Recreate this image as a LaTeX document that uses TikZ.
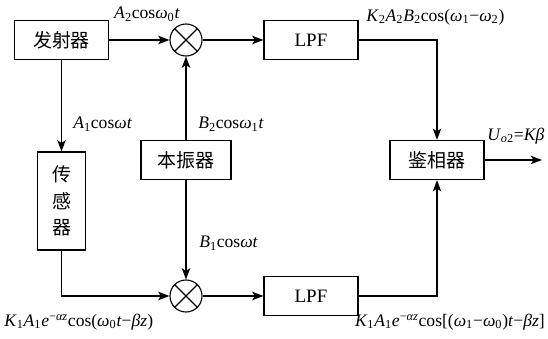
\documentclass[tikz,border=0pt]{standalone}
\usepackage{fontspec}
\setmainfont{Liberation Serif}
\newfontfamily\cjk{Noto Sans CJK SC}
\usetikzlibrary{arrows.meta}
\newcommand\sub[1]{\textsubscript{#1}}
\newcommand\sups[1]{\textsuperscript{#1}}
\begin{document}
\begin{tikzpicture}[x=0.025cm,y=-0.025cm,
  blk/.style={draw,thick,minimum width=2.35cm,minimum height=0.98cm,inner sep=0pt,font=\cjk\fontsize{13.5}{15}\selectfont},
  mixer/.style={draw,thick,circle,minimum size=0.8cm,inner sep=0pt},
  sig/.style={font=\fontsize{12.5}{14}\selectfont,inner sep=0pt},
  conn/.style={thick,-{Stealth[length=8pt,width=6pt,inset=2pt]}}]
\useasboundingbox (0,0) rectangle (548,339);
\node[blk] (tx) at (61.5,40) {发射器};
\node[mixer] (mixa) at (186,40) {};
\node[blk,font=\fontsize{13.5}{15}\selectfont] (lpfa) at (311,40) {LPF};
\node[blk,minimum width=1.2cm,minimum height=2.45cm,align=center,font=\cjk\fontsize{13.5}{19}\selectfont] (sensor) at (61.5,201) {传\\感\\器};
\node[blk,minimum width=2.25cm] (lo) at (186,160) {本振器};
\node[blk] (pd) at (437,160) {鉴相器};
\node[mixer] (mixb) at (186,296) {};
\node[blk,font=\fontsize{13.5}{15}\selectfont] (lpfb) at (311,296) {LPF};
\coordinate (out) at (542,160);
\foreach \m in {mixa,mixb}{
  \draw[thick] (\m.north east) -- (\m.south west) (\m.north west) -- (\m.south east);}
\draw[conn] (tx) -- (mixa);
\draw[conn] (mixa) -- (lpfa);
\draw[conn] (lpfa.east) -| (pd.north);
\draw[conn] (tx) -- (sensor);
\draw[conn] (lo) -- (mixa);
\draw[conn] (lo) -- (mixb);
\draw[conn] (sensor.south) |- (mixb.west);
\draw[conn] (mixb) -- (lpfb);
\draw[conn] (lpfb.east) -| (pd.south);
\draw[conn] (pd.east) -- (out);
\node[sig] (la2) at (147,14) {\textit{A}\sub{2}cos\textit{ω}\sub{0}\textit{t}};
\node[sig,anchor=west] (la1) at (73,124) {\textit{A}\sub{1}cos\textit{ωt}};
\node[sig,anchor=west] (lb2) at (198,124) {\textit{B}\sub{2}cos\textit{ω}\sub{1}\textit{t}};
\node[sig,anchor=west] (lb1) at (199,243) {\textit{B}\sub{1}cos\textit{ωt}};
\node[sig,anchor=west] (lk1) at (4,322) {\textit{K}\sub{1}\textit{A}\sub{1}\textit{e}\sups{−\textit{αz}}cos(\textit{ω}\sub{0}\textit{t}−\textit{βz})};
\node[sig,anchor=west] (lk2) at (366,17) {\textit{K}\sub{2}\textit{A}\sub{2}\textit{B}\sub{2}cos(\textit{ω}\sub{1}−\textit{ω}\sub{2})};
\node[sig,anchor=west] (lu) at (487,136) {\textit{U}\sub{\textit{o}2}=\textit{Kβ}};
\node[sig,anchor=east] (lk3) at (545,322) {\textit{K}\sub{1}\textit{A}\sub{1}\textit{e}\sups{−\textit{αz}}cos[(\textit{ω}\sub{1}−\textit{ω}\sub{0})\textit{t}−\textit{βz}]};
\end{tikzpicture}
\end{document}
